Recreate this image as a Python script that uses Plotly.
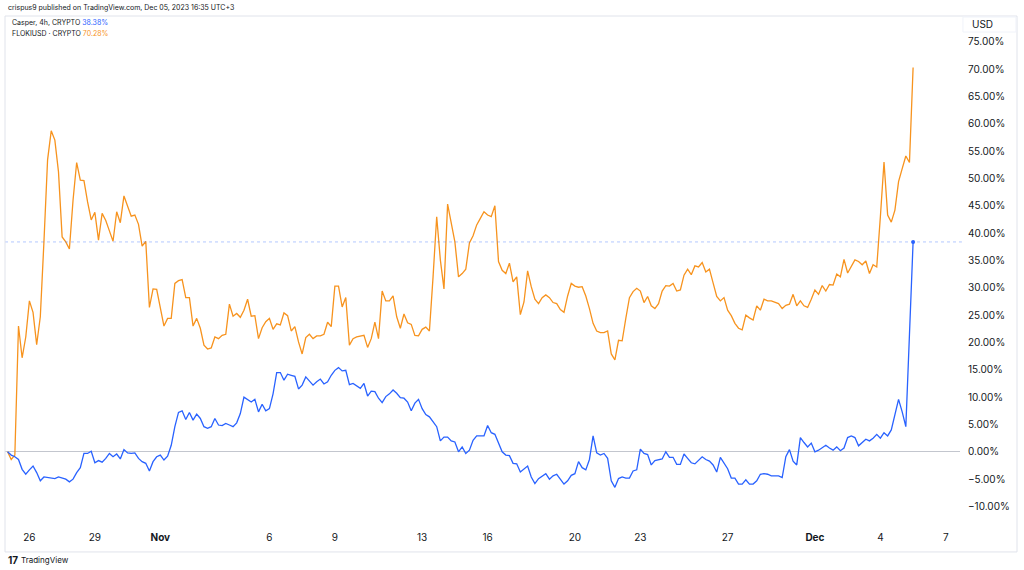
import pandas as pd
import plotly.graph_objects as go

# ---- data (percent change vs first visible 4h bar) ----
START = "2023-10-25 00:00"   # first 4h bar
STEP = "4h"

casper_pct = [
    0.0, -0.6, -0.9, -1.4, -3.2, -4.1, -3.3, -2.6, -3.8, -5.3,
    -4.6, -4.7, -4.8, -4.9, -4.6, -4.8, -5.0, -5.5, -5.0, -3.8,
    -2.9, -0.3, -0.3, 0.1, -2.0, -1.6, -1.9, -1.2, -0.3, -0.9,
    -0.4, -1.3, 0.4, -0.2, -0.3, -0.2, -1.2, -1.8, -2.1, -3.5,
    -1.8, -0.9, -0.6, -1.5, -0.8, 1.2, 4.6, 7.2, 7.5, 5.9,
    7.2, 5.8, 6.9, 6.1, 4.6, 4.3, 4.6, 6.1, 4.9, 4.8,
    5.2, 4.9, 4.6, 5.3, 7.0, 10.0, 9.6, 9.1, 9.6, 7.3,
    8.7, 7.5, 7.9, 10.6, 14.5, 14.5, 13.1, 14.2, 14.0, 13.8,
    11.5, 12.2, 13.7, 13.0, 12.2, 12.8, 13.3, 12.4, 12.8, 14.0,
    14.9, 15.4, 14.8, 14.9, 12.3, 12.5, 12.1, 11.6, 12.5, 10.2,
    11.1, 11.0, 9.8, 9.0, 10.1, 10.6, 11.3, 10.7, 9.9, 9.8,
    9.1, 7.5, 8.9, 9.6, 7.9, 6.8, 6.4, 5.4, 4.6, 2.0,
    2.7, 2.7, 2.0, 1.8, 0.0, 0.9, -0.3, 0.3, 2.1, 2.9,
    2.9, 2.9, 4.8, 3.5, 3.2, 1.5, 0.0, -0.6, -0.7, -2.1,
    -2.2, -3.7, -3.2, -2.6, -4.6, -5.8, -4.9, -4.4, -4.0, -5.0,
    -4.4, -4.1, -5.1, -5.9, -5.3, -4.3, -4.0, -1.8, -2.9, -3.3,
    -1.4, 2.9, -0.2, -0.6, -0.3, -1.2, -5.3, -6.5, -4.9, -4.6,
    -4.8, -4.8, -3.5, -3.3, 0.5, -0.3, -0.5, -2.4, -1.6, -1.5,
    -1.3, 0.0, -1.0, -1.0, -2.3, -2.3, -0.4, -1.2, -2.0, -2.2,
    -1.5, -0.9, -1.4, -1.7, -2.4, -3.7, -1.0, -2.1, -3.1, -4.8,
    -4.8, -5.9, -5.9, -5.1, -5.9, -5.9, -5.3, -4.1, -4.0, -4.1,
    -4.4, -4.4, -4.4, -4.7, -0.9, 0.4, -1.7, -2.4, 2.6, 1.7,
    0.9, 1.6, 0.0, 0.3, 0.7, 1.2, 0.7, 0.3, 0.9, 0.2,
    0.7, 2.6, 2.9, 2.6, 1.1, 1.7, 2.3, 2.0, 2.5, 3.2,
    2.5, 3.5, 2.9, 4.0, 6.7, 9.6, 7.3, 4.6, 21.5, 38.38,
]

floki_pct = [
    0.0, -1.4, -0.6, 23.0, 17.2, 21.0, 27.6, 25.5, 19.6, 24.7,
    38.4, 53.4, 58.7, 57.0, 51.2, 39.3, 38.4, 37.1, 46.0, 52.9,
    49.7, 49.6, 45.7, 42.4, 43.8, 38.7, 43.6, 42.3, 40.4, 38.5,
    43.9, 41.9, 46.8, 44.8, 43.1, 43.3, 41.6, 37.6, 38.5, 26.4,
    29.8, 29.7, 26.5, 23.0, 24.4, 24.4, 30.8, 31.3, 31.5, 28.2,
    28.2, 23.0, 24.4, 22.6, 19.5, 18.8, 19.0, 21.0, 20.7, 21.3,
    21.5, 27.0, 24.8, 25.3, 24.6, 25.9, 27.9, 24.8, 24.9, 20.7,
    22.7, 23.8, 24.4, 22.4, 23.4, 23.2, 25.4, 24.9, 22.1, 22.9,
    20.1, 17.9, 20.9, 21.5, 20.7, 21.2, 21.2, 21.5, 23.7, 22.9,
    30.3, 30.3, 26.5, 28.2, 19.5, 20.7, 21.0, 21.2, 21.3, 19.1,
    20.7, 23.7, 20.7, 29.4, 27.6, 27.6, 28.5, 24.7, 22.6, 25.2,
    23.6, 23.3, 21.3, 21.2, 22.4, 22.8, 22.1, 32.0, 43.0, 35.1,
    29.8, 45.3, 42.0, 38.4, 32.0, 32.6, 33.4, 38.2, 39.5, 41.5,
    42.7, 43.9, 43.3, 43.0, 45.0, 34.8, 33.2, 32.6, 34.5, 31.1,
    32.0, 25.1, 27.4, 33.1, 30.2, 27.9, 27.1, 28.2, 28.7, 28.2,
    27.3, 27.1, 26.0, 25.5, 28.5, 30.8, 30.3, 30.1, 30.2, 28.5,
    26.2, 23.5, 22.1, 21.8, 21.8, 22.1, 17.9, 16.8, 20.4, 20.3,
    24.4, 28.2, 29.3, 29.9, 29.4, 27.3, 28.4, 26.7, 26.2, 27.1,
    29.4, 30.4, 30.3, 30.8, 29.4, 29.6, 32.3, 33.4, 32.4, 34.0,
    33.8, 34.6, 32.9, 33.4, 30.9, 28.4, 27.6, 28.2, 25.9, 24.9,
    23.5, 22.6, 22.3, 25.0, 24.5, 24.1, 26.7, 25.9, 27.9, 27.6,
    27.6, 27.3, 27.1, 26.2, 26.8, 27.0, 28.8, 26.7, 27.6, 26.7,
    26.4, 27.9, 29.6, 28.8, 30.4, 29.4, 30.6, 30.5, 32.5, 32.0,
    35.2, 32.7, 34.0, 35.1, 34.8, 34.2, 34.9, 32.6, 34.2, 33.8,
    43.0, 53.0, 43.3, 42.0, 44.2, 49.4, 51.8, 54.1, 52.9, 70.28,
]

tick_dates = ["2023-10-26", "2023-10-29", "2023-11-01", "2023-11-06", "2023-11-09",
              "2023-11-13", "2023-11-16", "2023-11-20", "2023-11-23", "2023-11-27",
              "2023-12-01", "2023-12-04", "2023-12-07"]
tick_labels = ["26", "29", "<b>Nov</b>", "6", "9", "13", "16", "20", "23", "27",
               "<b>Dec</b>", "4", "7"]
y_tick_values = list(range(-10, 80, 5))
y_tick_labels = [f"{v:.2f}%".replace("-", "\u2212") for v in y_tick_values]

x_view = ["2023-10-24 21:10", "2023-12-07 15:35"]
y_view = [-13.2, 79.7]

BLUE = "#2962FF"
ORANGE = "#F7931E"
TEXT = "#131722"
FRAME = "#E0E3EB"
FONT = "Inter, Liberation Sans, sans-serif"

times = pd.date_range(START, periods=len(casper_pct), freq=STEP)

fig = go.Figure()
fig.add_trace(go.Scatter(x=times, y=floki_pct, mode="lines",
                         line=dict(color=ORANGE, width=1.3), name="FLOKIUSD"))
fig.add_trace(go.Scatter(x=times, y=casper_pct, mode="lines",
                         line=dict(color=BLUE, width=1.3), name="Casper"))
fig.add_trace(go.Scatter(x=[times[-1]], y=[casper_pct[-1]], mode="markers",
                         marker=dict(color=BLUE, size=4), name="last"))

# last price dotted line of the main series
fig.add_shape(type="line", xref="paper", yref="y", x0=0, x1=1.002,
              y0=casper_pct[-1], y1=casper_pct[-1],
              line=dict(color="rgba(41,98,255,0.35)", width=1, dash="dot"))

# chart frame
for x0, y0, x1, y1 in [(0, 1, 1.0597, 1), (0, 1, 0, -0.055),
                       (1.0597, 1, 1.0597, -0.055), (0, -0.055, 1.0597, -0.055)]:
    fig.add_shape(type="line", xref="paper", yref="paper", x0=x0, y0=y0, x1=x1, y1=y1,
                  line=dict(color=FRAME, width=1))

# USD box
fig.add_shape(type="rect", xref="paper", yref="paper", x0=1.0031, x1=1.0586,
              y0=0.9685, y1=0.998, line=dict(color="#F0F3FA", width=1))

anns = [
    dict(x=0.001, y=1.0177, text="crispus9 published on TradingView.com, Dec 05, 2023 16:35 UTC+3",
         font=dict(size=7, color=TEXT)),
    dict(x=0.0052, y=0.988,
         text=f"Casper, 4h, CRYPTO <span style='color:{BLUE}'>{casper_pct[-1]:.2f}%</span>",
         font=dict(size=7, color=TEXT)),
    dict(x=0.0052, y=0.9646,
         text=f"FLOKIUSD · CRYPTO <span style='color:{ORANGE}'>{floki_pct[-1]:.2f}%</span>",
         font=dict(size=7, color=TEXT)),
    dict(x=1.0105, y=0.984, text="USD", font=dict(size=10, color=TEXT)),
    dict(x=0.001, y=-0.0709, text="<b>17</b>", font=dict(size=10, color=TEXT)),
    dict(x=0.0150, y=-0.0709, text="TradingView", font=dict(size=8, color=TEXT)),
]
for a in anns:
    fig.add_annotation(xref="paper", yref="paper", xanchor="left", yanchor="middle",
                       showarrow=False, **a)

fig.update_layout(
    width=1024, height=570,
    margin=dict(l=5, r=64, t=16, b=46),
    paper_bgcolor="white", plot_bgcolor="white",
    showlegend=False,
    font=dict(family=FONT, color=TEXT, size=10),
    xaxis=dict(type="date", range=x_view, tickvals=tick_dates, ticktext=tick_labels,
               showgrid=False, zeroline=False, showline=False, ticks="",
               ticklabelstandoff=6, tickfont=dict(size=10, color=TEXT)),
    yaxis=dict(side="right", range=y_view, tickvals=y_tick_values, ticktext=y_tick_labels,
               showgrid=False, showline=False,
               ticks="", zeroline=True, zerolinecolor="#C3C6CE", zerolinewidth=1,
               ticklabelstandoff=7, tickfont=dict(size=10, color=TEXT)),
)

fig.write_html("out.html")
